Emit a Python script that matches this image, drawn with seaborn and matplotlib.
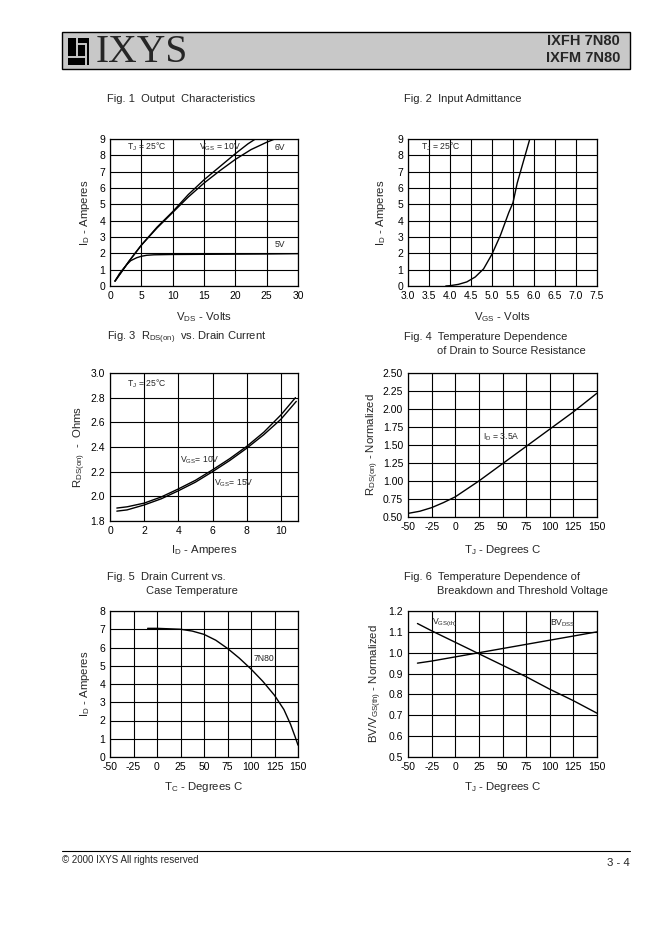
import matplotlib
matplotlib.use("Agg")
import matplotlib.pyplot as plt
import matplotlib.patches as mpatches
import matplotlib.lines as mlines
import numpy as np
import seaborn as sns

# ---- data ----
# Fig. 1 output characteristics (V_DS, I_D)
vds_10v = [0.8, 2, 3, 4, 5, 7.5, 10, 12.5, 15, 17.5, 20, 22, 23.2]
id_10v = [0.3, 0.95, 1.5, 2.0, 2.5, 3.6, 4.55, 5.6, 6.5, 7.3, 8.1, 8.7, 9.0]
vds_6v = [0.8, 2, 3, 4, 5, 7.5, 10, 12.5, 15, 17.5, 20, 22.5, 25, 26.3]
id_6v = [0.3, 0.95, 1.5, 2.0, 2.5, 3.55, 4.5, 5.45, 6.3, 7.05, 7.75, 8.35, 8.8, 9.0]
vds_5v = [0.8, 1.5, 2, 2.65, 3.3, 4.25, 5, 5.85, 7, 10, 15, 20, 25, 30]
id_5v = [0.3, 0.75, 1.0, 1.3, 1.55, 1.73, 1.82, 1.88, 1.91, 1.93, 1.94, 1.95, 1.96, 1.98]

# Fig. 2 input admittance
vgs = [3.9, 4.0, 4.2, 4.4, 4.6, 4.8, 5.0, 5.2, 5.4, 5.5, 5.6, 5.8, 5.9]
id_vgs = [0.0, 0.02, 0.1, 0.25, 0.55, 1.05, 1.95, 3.1, 4.5, 5.1, 6.3, 8.1, 9.0]

# Fig. 3 R_DS(on) vs drain current
id_r10 = [0.4, 1, 2, 3, 4, 5, 6, 7, 8, 9, 10, 10.85]
r_10v = [1.905, 1.915, 1.945, 1.995, 2.06, 2.13, 2.215, 2.305, 2.405, 2.52, 2.66, 2.80]
id_r15 = [0.4, 1, 2, 3, 4, 5, 6, 7, 8, 9, 10, 10.9]
r_15v = [1.88, 1.89, 1.93, 1.98, 2.045, 2.115, 2.2, 2.29, 2.39, 2.50, 2.625, 2.77]

# Fig. 4 normalised R_DS(on) vs T_J
tj_r = [-50, -37.5, -25, -12.5, 0, 25, 50, 75, 100, 125, 150]
r_norm = [0.55, 0.58, 0.63, 0.7, 0.78, 1.0, 1.24, 1.48, 1.72, 1.96, 2.22]

# Fig. 5 drain current vs case temperature
tc = [-10, 0, 25, 37.5, 50, 62.5, 75, 87.5, 100, 112.5, 125, 135, 142, 147, 150]
id_tc = [7.05, 7.05, 7.0, 6.9, 6.72, 6.4, 5.95, 5.42, 4.82, 4.15, 3.38, 2.6, 1.8, 1.1, 0.65]

# Fig. 6 breakdown and threshold voltage vs T_J
tj_v = [-40, -25, 0, 25, 50, 75, 100, 125, 150]
vth_norm = [1.14, 1.105, 1.05, 0.995, 0.94, 0.885, 0.825, 0.77, 0.71]
bv_norm = [0.95, 0.96, 0.98, 1.0, 1.02, 1.04, 1.06, 1.08, 1.10]

W, H = 662, 936
GRAY = "#c8c8c8"

sns.set_style("white")
plt.rcParams["font.family"] = ["Liberation Sans", "DejaVu Sans"]
plt.rcParams["mathtext.default"] = "regular"

fig = plt.figure(figsize=(W / 100, H / 100), dpi=100)


def box(l, r, t, b):
    return [l / W, 1 - b / H, (r - l) / W, (b - t) / H]


def fx(x):
    return x / W


def fy(y):
    return 1 - y / H


def setup(ax, xlim, ylim, xticks, yticks, xfmt, yfmt, xlabel, ylabel, ylx, xly):
    ax.set_xlim(*xlim)
    ax.set_ylim(*ylim)
    ax.set_xticks(xticks)
    ax.set_yticks(yticks)
    ax.set_xticklabels([xfmt.format(v) for v in xticks])
    ax.set_yticklabels([yfmt.format(v) for v in yticks])
    ax.grid(True, color="black", lw=0.8)
    ax.tick_params(length=0, pad=3.5, labelsize=7.5, colors="black")
    for s in ax.spines.values():
        s.set_visible(True)
        s.set_color("black")
        s.set_linewidth(0.9)
    ax.set_xlabel(xlabel, fontsize=8.2)
    ax.set_ylabel(ylabel, fontsize=8.2)
    ax.yaxis.set_label_coords(ylx, 0.5)
    ax.xaxis.set_label_coords(0.5, xly)


def curve(ax, x, y):
    sns.lineplot(x=x, y=y, ax=ax, color="black", lw=1.0, sort=False, estimator=None)


def note(ax, x, y, s):
    ax.text(x, y, s, fontsize=6.2, ha="left", va="center")


# Fig. 1
ax1 = fig.add_axes(box(110, 298, 139, 286))
curve(ax1, vds_10v, id_10v)
curve(ax1, vds_6v, id_6v)
curve(ax1, vds_5v, id_5v)
setup(ax1, (0, 30), (0, 9), list(range(0, 31, 5)), list(range(0, 10)), "{}", "{}",
      r"V$_{DS}$ - Volts", r"I$_D$ - Amperes", -0.098, -0.165)
note(ax1, 2.7, 8.5, r"T$_J$ = 25°C")
note(ax1, 14.2, 8.5, r"V$_{GS}$ = 10V")
note(ax1, 26.2, 8.5, "6V")
note(ax1, 26.2, 2.55, "5V")

# Fig. 2
ax2 = fig.add_axes(box(408, 597, 139, 286))
curve(ax2, vgs, id_vgs)
setup(ax2, (3.0, 7.5), (0, 9), [3.0 + 0.5 * i for i in range(10)], list(range(0, 10)), "{:.1f}", "{}",
      r"V$_{GS}$ - Volts", r"I$_D$ - Amperes", -0.108, -0.165)
note(ax2, 3.3, 8.5, r"T$_J$ = 25°C")

# Fig. 3
ax3 = fig.add_axes(box(110, 298, 373, 521))
curve(ax3, id_r10, r_10v)
curve(ax3, id_r15, r_15v)
setup(ax3, (0, 11), (1.8, 3.0), [0, 2, 4, 6, 8, 10], [1.8, 2.0, 2.2, 2.4, 2.6, 2.8, 3.0], "{}", "{:.1f}",
      r"I$_D$ - Amperes", r"R$_{DS(on)}$  -  Ohms", -0.118, -0.15)
note(ax3, 1.0, 2.91, r"T$_J$ = 25°C")
note(ax3, 4.1, 2.295, r"V$_{GS}$= 10V")
note(ax3, 6.1, 2.108, r"V$_{GS}$= 15V")

# Fig. 4
ax4 = fig.add_axes(box(408, 597, 373, 517))
curve(ax4, tj_r, r_norm)
setup(ax4, (-50, 150), (0.5, 2.5), list(range(-50, 151, 25)), [0.5 + 0.25 * i for i in range(9)], "{}", "{:.2f}",
      r"T$_J$ - Degrees C", r"R$_{DS(on)}$ - Normalized", -0.143, -0.178)
note(ax4, 29.5, 1.61, r"I$_D$ = 3.5A")

# Fig. 5
ax5 = fig.add_axes(box(110, 298, 611, 757))
curve(ax5, tc, id_tc)
setup(ax5, (-50, 150), (0, 8), list(range(-50, 151, 25)), list(range(0, 9)), "{}", "{}",
      r"T$_C$ - Degrees C", r"I$_D$ - Amperes", -0.098, -0.159)
note(ax5, 103, 5.42, "7N80")

# Fig. 6
ax6 = fig.add_axes(box(408, 597, 611, 757))
curve(ax6, tj_v, vth_norm)
curve(ax6, tj_v, bv_norm)
setup(ax6, (-50, 150), (0.5, 1.2), list(range(-50, 151, 25)), [0.5 + 0.1 * i for i in range(8)], "{}", "{:.1f}",
      r"T$_J$ - Degrees C", r"BV/V$_{GS(th)}$ - Normalized", -0.128, -0.159)
note(ax6, -24.5, 1.142, r"V$_{GS(th)}$")
note(ax6, 100.5, 1.142, r"BV$_{DSS}$")

# figure titles
tfs = 8.0
fig.text(fx(107), fy(99), "Fig. 1  Output  Characteristics", fontsize=tfs, va="center")
fig.text(fx(404), fy(99), "Fig. 2  Input Admittance", fontsize=tfs, va="center")
fig.text(fx(107), fy(338), r"Fig. 3  R$_{DS(on)}$  vs. Drain Current", fontsize=tfs, va="center")
fig.text(fx(404), fy(337), "Fig. 4  Temperature Dependence", fontsize=tfs, va="center")
fig.text(fx(437), fy(351), "of Drain to Source Resistance", fontsize=tfs, va="center")
fig.text(fx(107), fy(577), "Fig. 5  Drain Current vs.", fontsize=tfs, va="center")
fig.text(fx(146), fy(591), "Case Temperature", fontsize=tfs, va="center")
fig.text(fx(404), fy(577), "Fig. 6  Temperature Dependence of", fontsize=tfs, va="center")
fig.text(fx(437), fy(591), "Breakdown and Threshold Voltage", fontsize=tfs, va="center")


def fline(xs, ys, color, lw):
    fig.lines.append(mlines.Line2D([fx(v) for v in xs], [fy(v) for v in ys],
                                   transform=fig.transFigure, color=color, lw=lw))


# header band with logo
fig.patches.append(mpatches.Rectangle((fx(62), fy(69)), (630 - 62) / W, (69 - 32) / H,
                                      transform=fig.transFigure, facecolor=GRAY,
                                      edgecolor="black", lw=1.0))
fig.patches.append(mpatches.Rectangle((fx(68), fy(65)), 21 / W, 27 / H,
                                      transform=fig.transFigure, facecolor="black", lw=0))
fline([68, 85.5], [56.5, 56.5], GRAY, 1.4)
fline([85.5, 85.5], [44, 65], GRAY, 1.4)
fline([77, 77], [38, 56.5], GRAY, 1.4)
fline([77, 85.5], [44, 44], GRAY, 1.4)
fig.text(fx(96), fy(52), "IXYS", fontsize=28.5, family="Liberation Serif", va="center", ha="left")
fig.text(fx(620), fy(41), "IXFH 7N80", fontsize=10.5, weight="bold", ha="right", va="center")
fig.text(fx(620), fy(58), "IXFM 7N80", fontsize=10.5, weight="bold", ha="right", va="center")

# footer
fline([62, 630], [851, 851], "black", 0.8)
fig.text(fx(62), fy(860), "© 2000 IXYS All rights reserved", fontsize=7, va="center")
fig.text(fx(630), fy(863), "3 - 4", fontsize=8.2, va="center", ha="right")

fig.savefig("out.png", dpi=100, facecolor="white")
